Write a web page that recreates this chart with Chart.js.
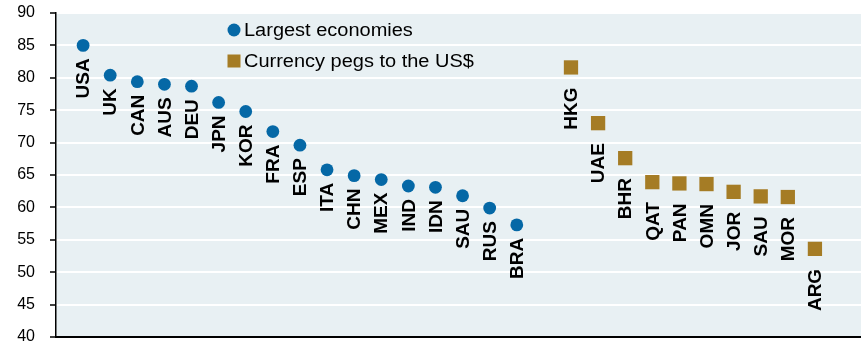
<!DOCTYPE html>
<html lang="en">
<head>
    <meta charset="UTF-8">
    <title>Largest economies vs currency pegs</title>
    <style>
        * { margin: 0; padding: 0; box-sizing: border-box; }
        body { background: #FFFFFF; width: 861px; height: 341px; overflow: hidden; }
        canvas { display: block; }
    </style>
</head>
<body>
    <canvas id="chart" width="861" height="341"></canvas>

    <script src="https://cdn.jsdelivr.net/npm/chart.js@4.4.1/dist/chart.umd.min.js"></script>
    <script>
        // values
        const economies = ['USA', 'UK', 'CAN', 'AUS', 'DEU', 'JPN', 'KOR', 'FRA', 'ESP', 'ITA', 'CHN', 'MEX', 'IND', 'IDN', 'SAU', 'RUS', 'BRA'];
        const economyValues = [85.0, 80.4, 79.4, 79.0, 78.7, 76.2, 74.8, 71.7, 69.6, 65.8, 64.9, 64.3, 63.3, 63.1, 61.8, 59.9, 57.3];
        const pegs = ['HKG', 'UAE', 'BHR', 'QAT', 'PAN', 'OMN', 'JOR', 'SAU', 'MOR', 'ARG'];
        const pegValues = [81.6, 73.0, 67.6, 63.9, 63.7, 63.6, 62.4, 61.7, 61.6, 53.6];
        const seriesNames = ['Largest economies', 'Currency pegs to the US$'];

        const blue = '#0568A6';
        const gold = '#A57C25';

        // one empty slot between the two groups
        const economyPoints = economyValues.map((v, i) => ({ x: i, y: v }));
        const pegPoints = pegValues.map((v, i) => ({ x: economies.length + 1 + i, y: v }));

        const plotBackground = {
            id: 'plotBackground',
            beforeDraw(chart) {
                const a = chart.chartArea;
                const ctx = chart.ctx;
                ctx.save();
                ctx.fillStyle = '#E8F0F3';
                ctx.fillRect(a.left, a.top, a.right - a.left, a.bottom - a.top);
                ctx.restore();
            }
        };

        // rotated country codes under each marker
        const pointLabels = {
            id: 'pointLabels',
            afterDatasetsDraw(chart) {
                const ctx = chart.ctx;
                const names = [economies, pegs];
                const gaps = [13, 20];
                ctx.save();
                ctx.font = 'bold 19px "Liberation Sans", Arial, sans-serif';
                ctx.fillStyle = '#000000';
                ctx.textAlign = 'right';
                ctx.textBaseline = 'middle';
                chart.data.datasets.forEach((ds, d) => {
                    chart.getDatasetMeta(d).data.forEach((pt, i) => {
                        ctx.save();
                        ctx.translate(pt.x, pt.y + gaps[d]);
                        ctx.rotate(-Math.PI / 2);
                        ctx.fillText(names[d][i], 0, 1);
                        ctx.restore();
                    });
                });
                ctx.restore();
            }
        };

        // legend sits inside the plot area
        const innerLegend = {
            id: 'innerLegend',
            afterDraw(chart) {
                const ctx = chart.ctx;
                const x = 234, rows = [30, 61];
                ctx.save();
                ctx.fillStyle = blue;
                ctx.beginPath();
                ctx.arc(x, rows[0], 6.5, 0, Math.PI * 2);
                ctx.fill();
                ctx.fillStyle = gold;
                ctx.fillRect(x - 6.5, rows[1] - 6.5, 13, 13);
                ctx.fillStyle = '#000000';
                ctx.font = '18px "Liberation Sans", Arial, sans-serif';
                ctx.textBaseline = 'middle';
                seriesNames.forEach((name, i) => {
                    ctx.save();
                    ctx.translate(x + 10, rows[i] + 1);
                    ctx.scale(1.11, 1);
                    ctx.fillText(name, 0, 0);
                    ctx.restore();
                });
                ctx.restore();
            }
        };

        new Chart(document.getElementById('chart'), {
            type: 'scatter',
            data: {
                datasets: [
                    { label: seriesNames[0], data: economyPoints, backgroundColor: blue, borderWidth: 0, pointStyle: 'circle', pointRadius: 6.4, pointHoverRadius: 6.4 },
                    { label: seriesNames[1], data: pegPoints, backgroundColor: gold, borderWidth: 0, pointStyle: 'rect', pointRadius: 10.1, pointHoverRadius: 10.1 }
                ]
            },
            options: {
                responsive: false,
                animation: false,
                events: [],
                layout: { autoPadding: false, padding: { top: 13, right: 0, bottom: 4, left: 0 } },
                plugins: { legend: { display: false }, tooltip: { enabled: false } },
                scales: {
                    x: {
                        type: 'linear',
                        min: -1,
                        max: 28.7,
                        ticks: { display: false },
                        grid: { display: false },
                        border: { display: true, color: '#000000', width: 2 },
                        afterFit: s => { s.height = 0; }
                    },
                    y: {
                        min: 40,
                        max: 90,
                        ticks: {
                            stepSize: 5,
                            padding: 15,
                            color: '#000000',
                            font: { family: '"Liberation Sans", Arial, sans-serif', size: 16 }
                        },
                        grid: { color: '#FFFFFF', lineWidth: 2, tickColor: '#000000', tickLength: 6, tickWidth: 1.5 },
                        border: { display: true, color: '#000000', width: 1.5 },
                        afterFit: s => { s.width = 56; s.paddingTop = 0; s.paddingBottom = 0; }
                    }
                }
            },
            plugins: [plotBackground, pointLabels, innerLegend]
        });
    </script>
</body>
</html>
